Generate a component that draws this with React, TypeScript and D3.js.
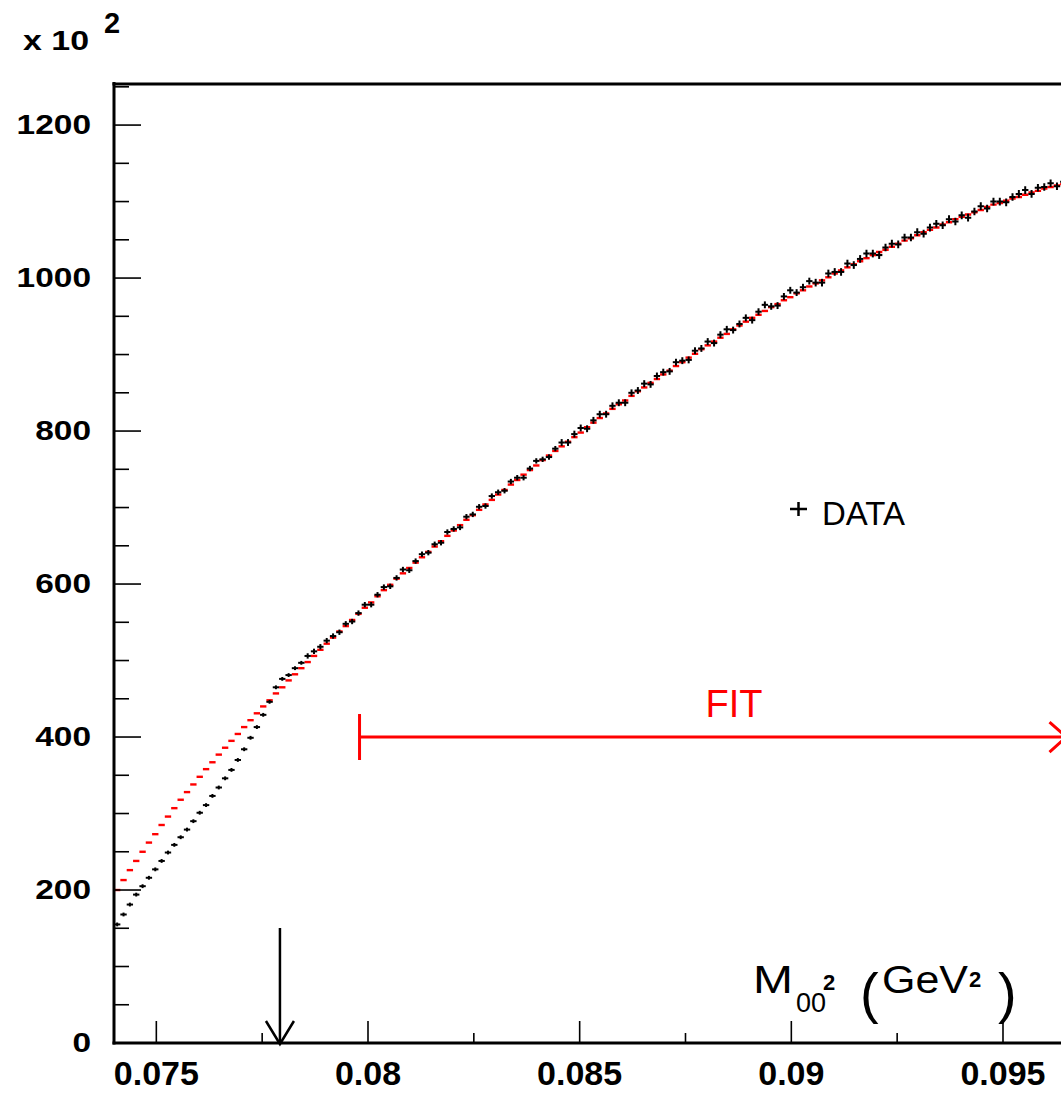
import React from 'react';
import * as d3 from 'd3';

// ---- data (values in units of 10^2 events) ----
const binStart = 0.074;
const binWidth = 0.00015;

const dataCounts = [
  155, 168, 181, 194, 205, 216, 227, 238, 249, 259,
  269, 279, 290, 301, 311, 323, 334, 346, 357, 370,
  384, 399, 413, 429, 446, 465, 476, 481, 490, 497,
  506, 512, 518, 526, 532, 537, 548, 551, 562, 573,
  573, 586, 596, 597, 608, 619, 618, 630, 639, 641,
  652, 654, 668, 672, 674, 688, 691, 701, 702, 715,
  720, 722, 734, 739, 739, 751, 761, 763, 766, 777,
  785, 785, 796, 804, 803, 814, 822, 822, 833, 837,
  837, 850, 853, 862, 861, 872, 877, 878, 890, 892,
  893, 905, 908, 917, 915, 926, 933, 932, 940, 948,
  945, 956, 965, 963, 964, 976, 984, 981, 988, 996,
  994, 994, 1006, 1008, 1008, 1019, 1017, 1025, 1032, 1032,
  1030, 1040, 1045, 1044, 1053, 1053, 1060, 1058, 1066, 1071,
  1069, 1077, 1074, 1082, 1079, 1087, 1094, 1091, 1100, 1100,
  1099, 1106, 1110, 1115, 1110, 1118, 1119, 1124, 1120, 1126,
  1127, 1126, 1133,
];

const fitCounts = [
  200, 213, 226, 238, 250, 262, 273, 285, 296, 307,
  318, 328, 338, 348, 358, 367, 377, 386, 395, 404,
  413, 422, 431, 440, 448, 457, 465, 474, 482, 490,
  498, 506, 514, 522, 530, 538, 545, 553, 561, 569,
  576, 584, 592, 599, 607, 614, 621, 628, 635, 642,
  649, 656, 663, 670, 677, 684, 690, 697, 704, 710,
  717, 723, 730, 736, 743, 749, 755, 762, 768, 774,
  780, 786, 792, 798, 805, 811, 817, 823, 829, 835,
  840, 846, 852, 857, 863, 868, 874, 879, 885, 890,
  896, 901, 907, 912, 917, 922, 927, 933, 938, 943,
  948, 952, 957, 962, 966, 971, 975, 980, 984, 989,
  993, 997, 1001, 1006, 1010, 1014, 1018, 1022, 1026, 1030,
  1034, 1037, 1041, 1045, 1049, 1052, 1056, 1060, 1063, 1066,
  1070, 1073, 1077, 1080, 1083, 1086, 1089, 1093, 1096, 1098,
  1101, 1104, 1106, 1109, 1112, 1114, 1117, 1119, 1121, 1123,
  1126, 1128, 1130,
];

// error bar half-heights read per region: [first bin index, error]
const errorByRegion: [number, number][] = [
  [0, 2.5], [30, 3.5], [70, 4.5], [110, 5],
];

const yTickValues = [0, 200, 400, 600, 800, 1000, 1200];
const yTickLabels = ['0', '200', '400', '600', '800', '1000', '1200'];
const xTickValues = [0.075, 0.08, 0.085, 0.09, 0.095];
const xTickLabels = ['0.075', '0.08', '0.085', '0.09', '0.095'];

const thresholdMass2 = 0.07792; // black arrow
const fitRangeStart = 0.0798;
const fitRangeEnd = 0.0965;
const fitArrowLevel = 400;

const W = 1061;
const H = 1093;

const SANS = 'Liberation Sans, Arial, Helvetica, sans-serif';

export default function App() {
  const xDomainEnd = binStart + binWidth * fitCounts.length;
  const x = d3.scaleLinear().domain([binStart, xDomainEnd]).range([114, 114 + (xDomainEnd - binStart) * 42333]);
  const y = d3.scaleLinear().domain([0, 1255]).range([1043, 83]);

  const errFor = (i: number) => {
    let e = errorByRegion[0][1];
    for (const [k, v] of errorByRegion) if (i >= k) e = v;
    return e;
  };

  const yMinor = d3.range(0, 1255, 50);
  const xMinor = d3.range(0.075, xDomainEnd, 0.0025);

  const fitY = y(fitArrowLevel);
  const fx0 = x(fitRangeStart);
  const fx1 = x(fitRangeEnd);
  const ax = x(thresholdMass2);

  return (
    <svg width={W} height={H} style={{ position: 'absolute', left: 0, top: 0, display: 'block', background: '#fff' }}>
      <rect x={0} y={0} width={W} height={H} fill="#fff" />
      <defs>
        <clipPath id="plot">
          <rect x={114} y={83} width={x(xDomainEnd) - 114} height={1043 - 83} />
        </clipPath>
      </defs>

      {/* fit (red) */}
      <g clipPath="url(#plot)" stroke="#ff0000" strokeWidth={2.4}>
        {fitCounts.map((v, i) => (
          <line key={'f' + i} x1={x(binStart + i * binWidth)} x2={x(binStart + (i + 1) * binWidth)} y1={y(v)} y2={y(v)} />
        ))}
      </g>

      {/* data (black crosses) */}
      <g clipPath="url(#plot)" stroke="#000" strokeWidth={2}>
        {dataCounts.map((v, i) => {
          const cx = x(binStart + (i + 0.5) * binWidth);
          const e = errFor(i);
          return (
            <g key={'d' + i}>
              <line x1={x(binStart + i * binWidth)} x2={x(binStart + (i + 1) * binWidth)} y1={y(v)} y2={y(v)} />
              <line x1={cx} x2={cx} y1={y(v - e)} y2={y(v + e)} />
            </g>
          );
        })}
      </g>

      {/* frame */}
      <g stroke="#000" strokeWidth={3} fill="none">
        <line x1={114} x2={114} y1={82} y2={1044.5} />
        <line x1={112.5} x2={1100} y1={84} y2={84} />
        <line x1={112.5} x2={1100} y1={1043} y2={1043} />
      </g>

      {/* y ticks */}
      <g stroke="#000" strokeWidth={1.6}>
        {yMinor.map((v) => (
          <line key={'ym' + v} x1={114} x2={v % 200 === 0 ? 141 : 129} y1={y(v)} y2={y(v)} />
        ))}
      </g>
      {/* x ticks */}
      <g stroke="#000" strokeWidth={1.6}>
        {xMinor.map((v, i) => (
          <line key={'xm' + i} x1={x(v)} x2={x(v)} y1={1043} y2={i % 2 === 0 ? 1021 : 1033} />
        ))}
      </g>

      {/* y labels */}
      <g fontFamily={SANS} fontWeight="bold" fontSize={28} textAnchor="end" fill="#000">
        {yTickValues.map((v, i) => (
          <text key={'yl' + v} x={91} y={y(v) + 9} textLength={18.6 * yTickLabels[i].length} lengthAdjust="spacingAndGlyphs">{yTickLabels[i]}</text>
        ))}
      </g>
      {/* x labels */}
      <g fontFamily={SANS} fontWeight="bold" fontSize={34} textAnchor="middle" fill="#000">
        {xTickValues.map((v, i) => (
          <text key={'xl' + v} x={x(v)} y={1085}>{xTickLabels[i]}</text>
        ))}
      </g>

      {/* x 10^2 */}
      <g fontFamily={SANS} fontWeight="bold" fill="#000">
        <text x={23} y={50} fontSize={28} textLength={66} lengthAdjust="spacingAndGlyphs">x 10</text>
        <text x={104} y={33} fontSize={29}>2</text>
      </g>

      {/* threshold arrow */}
      <g stroke="#000" strokeWidth={2.5} fill="none">
        <line x1={ax} x2={ax} y1={928} y2={1043} />
        <polyline points={`${ax - 14},${1021} ${ax},${1044} ${ax + 14},${1021}`} />
      </g>

      {/* FIT range arrow */}
      <g stroke="#ff0000" strokeWidth={3} fill="none">
        <line x1={fx0} x2={fx0} y1={fitY - 23} y2={fitY + 23} />
        <line x1={fx0} x2={fx1} y1={fitY} y2={fitY} />
        <polyline points={`${fx1 - 17},${fitY - 15} ${fx1},${fitY} ${fx1 - 17},${fitY + 15}`} />
      </g>
      <text x={734} y={717} fontFamily={SANS} fontSize={38} fill="#ff0000" textAnchor="middle">FIT</text>

      {/* legend */}
      <g stroke="#000" strokeWidth={2.5}>
        <line x1={790} x2={807} y1={509} y2={509} />
        <line x1={798.5} x2={798.5} y1={502} y2={516} />
      </g>
      <text x={822} y={525} fontFamily={SANS} fontSize={33} fill="#000" textLength={83} lengthAdjust="spacingAndGlyphs">DATA</text>

      {/* axis title */}
      <g fontFamily={SANS} fill="#000">
        <text x={753} y={993} fontSize={39} textLength={40} lengthAdjust="spacingAndGlyphs">M</text>
        <text x={796} y={1012} fontSize={27}>00</text>
        <text x={823} y={990} fontSize={22} fontWeight="bold">2</text>
        <text x={860} y={1012} fontSize={56} fontWeight={300}>(</text>
        <text x={882} y={993} fontSize={39} textLength={86} lengthAdjust="spacingAndGlyphs">GeV</text>
        <text x={969} y={987} fontSize={22} fontWeight="bold">2</text>
        <text x={998} y={1012} fontSize={56} fontWeight={300}>)</text>
      </g>
    </svg>
  );
}
